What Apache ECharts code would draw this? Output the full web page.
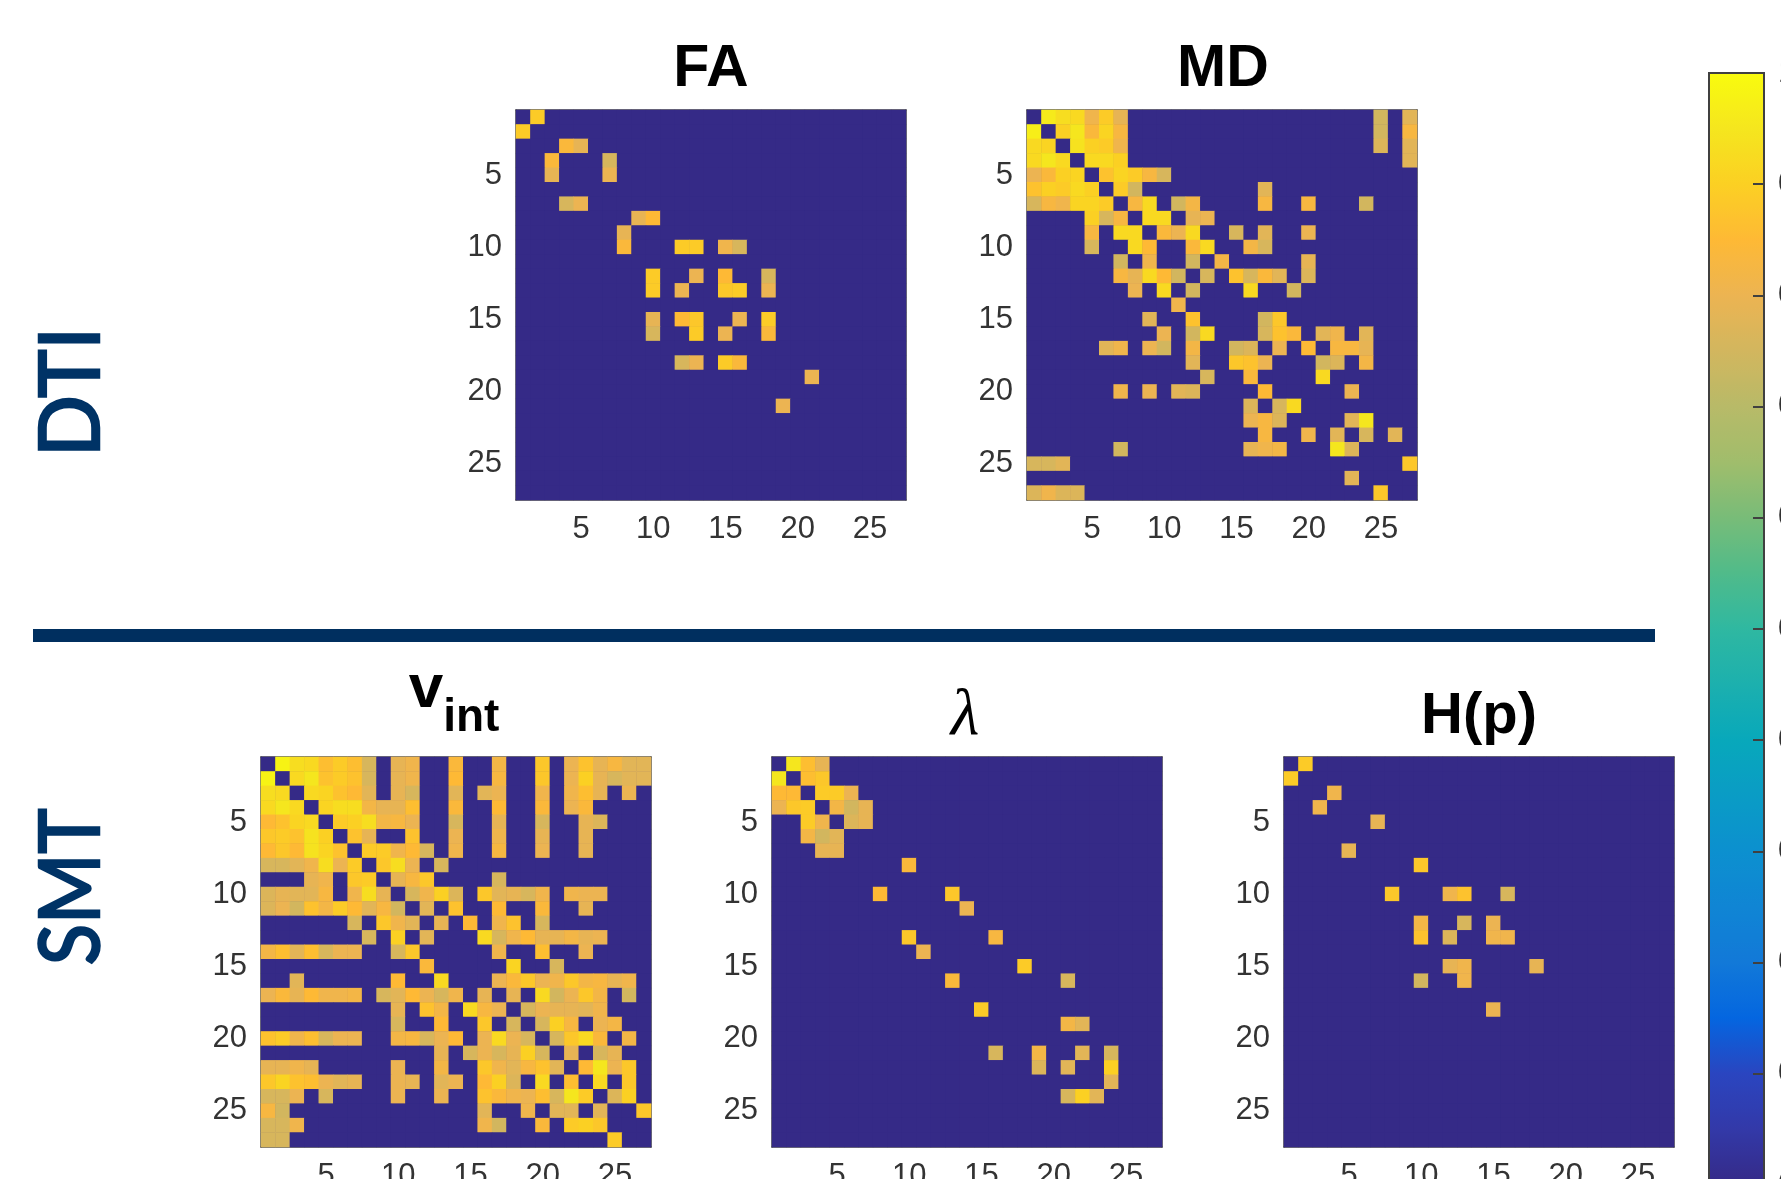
<!DOCTYPE html>
<html>
<head>
<meta charset="utf-8">
<style>html,body{margin:0;padding:0;background:#fff;overflow:hidden}#c{width:1781px;height:1179px}</style>
<script src="https://cdn.jsdelivr.net/npm/echarts@6/dist/echarts.min.js"></script>
</head>
<body>
<div id="c"></div>
<script>
// Every row: [row, col, value, col, value, ...]. Cells not listed are 0.
const indices = ['1','2','3','4','5','6','7','8','9','10','11','12','13','14','15','16','17','18','19','20','21','22','23','24','25','26','27'];
const faCells = [
[1,2,.89],[2,1,.89],[3,4,.84,5,.79],[4,3,.84,7,.76],[5,3,.79,7,.80],[7,4,.76,5,.80],
[8,9,.79,10,.85],[9,8,.79],[10,8,.84,12,.89,13,.89,15,.81,16,.76],
[12,10,.89,13,.80,15,.85,18,.76],[13,10,.89,12,.80,15,.88,16,.89,18,.80],
[15,10,.79,12,.85,13,.88,16,.80,18,.89],[16,10,.76,13,.89,15,.80,18,.84],
[18,12,.76,13,.80,15,.89,16,.84],[19,21,.80],[21,19,.80]];
const mdCells = [
[1,2,.96,3,.93,4,.92,5,.81,6,.89,7,.79,25,.75,27,.78],
[2,1,.97,3,.90,4,.95,5,.84,6,.91,7,.83,25,.75,27,.83],
[3,1,.92,2,.91,4,.94,5,.90,6,.89,7,.81,25,.77,27,.78],
[4,1,.92,2,.95,3,.92,5,.92,6,.92,7,.90,27,.78],
[5,1,.80,2,.84,3,.90,4,.91,6,.87,7,.91,8,.89,9,.83,10,.76],
[6,1,.87,2,.90,3,.89,4,.92,5,.90,7,.89,8,.75,17,.78],
[7,1,.76,2,.83,3,.81,4,.91,5,.91,6,.89,8,.83,9,.92,11,.75,12,.82,17,.83,20,.83,24,.75],
[8,5,.90,6,.76,7,.83,9,.92,10,.92,12,.79,13,.80],
[9,5,.83,7,.92,8,.92,10,.84,11,.80,12,.92,15,.76,17,.78,20,.80],
[10,5,.76,8,.92,9,.85,12,.84,13,.92,16,.82,17,.76],
[11,7,.75,9,.81,12,.75,14,.82,20,.79],
[12,7,.83,8,.79,9,.92,10,.85,11,.75,13,.76,15,.87,16,.76,17,.84,18,.78,20,.77],
[13,8,.80,10,.92,12,.75,16,.92,19,.75],
[14,11,.81],
[15,9,.78,12,.87,17,.75,18,.88],
[16,10,.80,12,.75,13,.92,17,.76,18,.87,19,.84,21,.78,22,.81,24,.78],
[17,6,.78,7,.81,9,.80,10,.75,12,.82,15,.75,16,.77,18,.80,20,.85,22,.83,23,.83,24,.79],
[18,12,.78,15,.88,16,.87,17,.80,21,.75,22,.77,24,.82],
[19,13,.76,16,.84,21,.92],
[20,7,.81,9,.80,11,.78,12,.77,17,.85,23,.80],
[21,16,.77,18,.76,19,.92],
[22,16,.80,17,.83,18,.77,23,.78,24,.95],
[23,17,.83,20,.81,22,.78,24,.76,26,.78],
[24,7,.75,16,.79,17,.81,18,.82,22,.95,23,.77],
[25,1,.76,2,.76,3,.78,27,.88],
[26,23,.78],
[27,1,.77,2,.81,3,.77,4,.77,25,.88]];
const vintCells = [
[1,2,.98,3,.93,4,.92,5,.86,6,.89,7,.86,8,.76,10,.79,11,.81,14,.84,17,.82,20,.88,22,.80,23,.87,24,.79,25,.83,26,.78,27,.78],
[2,1,.98,3,.92,4,.95,5,.87,6,.89,7,.87,8,.76,10,.79,11,.81,14,.85,17,.83,20,.88,22,.80,23,.90,24,.79,25,.76,26,.78,27,.78],
[3,1,.93,2,.92,4,.92,5,.91,6,.87,7,.85,8,.78,10,.79,11,.76,14,.78,16,.78,17,.80,20,.81,22,.81,23,.86,24,.79,26,.80],
[4,1,.92,2,.95,3,.92,5,.91,6,.93,7,.93,8,.82,9,.79,10,.79,11,.86,14,.84,17,.85,20,.84,22,.80,23,.84],
[5,1,.85,2,.87,3,.91,4,.92,6,.89,7,.90,8,.93,9,.82,10,.83,11,.80,14,.76,17,.79,20,.76,23,.79,24,.77],
[6,1,.88,2,.89,3,.87,4,.94,5,.90,7,.87,8,.79,11,.87,14,.80,17,.81,20,.79,23,.79],
[7,1,.85,2,.88,3,.85,4,.94,5,.91,6,.87,8,.89,9,.89,10,.81,11,.85,12,.76,14,.81,17,.83,20,.80,23,.79],
[8,1,.76,2,.76,3,.78,4,.81,5,.93,6,.80,7,.89,9,.88,10,.93,11,.80,13,.76],
[9,4,.79,5,.81,7,.88,8,.89,10,.79,11,.83,12,.88,17,.76],
[10,1,.77,2,.79,3,.78,4,.78,5,.83,7,.81,8,.93,9,.79,11,.76,12,.81,13,.90,14,.77,16,.88,17,.78,18,.79,19,.76,20,.81,22,.81,23,.80,24,.80],
[11,1,.77,2,.80,3,.75,4,.87,5,.82,6,.89,7,.85,8,.78,9,.83,10,.75,12,.78,14,.87,17,.85,20,.84,23,.79],
[12,7,.76,9,.88,10,.81,11,.78,13,.79,15,.85,17,.81,18,.87,20,.76],
[13,8,.76,10,.90,12,.78,16,.92,17,.76,18,.81,19,.85,20,.79,21,.79,22,.82,23,.79,24,.80],
[14,1,.82,2,.86,3,.78,4,.86,5,.76,6,.80,7,.80,10,.76,11,.88,17,.81,20,.86,23,.80],
[15,12,.84,18,.91,21,.76],
[16,3,.78,10,.85,13,.92,17,.80,18,.84,19,.88,20,.80,21,.81,22,.88,23,.82,24,.83,25,.79,26,.81],
[17,1,.80,2,.84,3,.79,4,.85,5,.81,6,.81,7,.82,9,.76,10,.78,11,.85,12,.80,13,.76,14,.81,16,.79,18,.79,20,.92,21,.75,22,.80,23,.88,24,.82,26,.75],
[18,10,.79,12,.87,13,.82,15,.92,16,.83,17,.80,19,.76,20,.80,21,.79,22,.79,23,.78,24,.81],
[19,10,.76,13,.85,16,.88,18,.76,20,.76,21,.90,22,.83,24,.80,25,.82],
[20,1,.87,2,.89,3,.81,4,.86,5,.76,6,.80,7,.80,10,.82,11,.83,12,.76,13,.80,14,.85,16,.80,17,.92,18,.80,19,.76,21,.76,22,.88,23,.92,24,.84,26,.82],
[21,13,.79,15,.76,16,.80,17,.76,18,.79,19,.90,20,.76,22,.79,24,.76,25,.79],
[22,1,.79,2,.79,3,.81,4,.79,10,.80,13,.82,16,.88,17,.81,18,.78,19,.83,20,.87,21,.78,23,.85,24,.95,25,.80,26,.88],
[23,1,.88,2,.91,3,.87,4,.86,5,.80,6,.78,7,.79,10,.80,11,.79,13,.78,14,.80,16,.85,17,.90,18,.77,20,.92,22,.86,24,.92,26,.88],
[24,1,.76,2,.76,3,.80,5,.76,10,.80,13,.80,16,.87,17,.84,18,.81,19,.80,20,.86,21,.76,22,.95,23,.89,25,.77,26,.90],
[25,1,.83,2,.75,16,.78,19,.81,21,.78,22,.78,24,.78,27,.88],
[26,1,.76,2,.76,3,.81,16,.81,17,.75,20,.84,22,.89,23,.90,24,.88],
[27,1,.76,2,.76,25,.89]];
const lambdaCells = [
[1,2,.95,3,.86,4,.79],[2,1,.95,3,.86,4,.88],[3,1,.85,2,.85,4,.89,5,.89,6,.80],
[4,1,.80,2,.88,3,.89,5,.82,6,.75,7,.79],[5,3,.89,4,.81,6,.77,7,.79],[6,3,.82,4,.75,5,.78],
[7,4,.79,5,.79],[8,10,.84],[10,8,.85,13,.88],[11,14,.80],[13,10,.88,16,.83],[14,11,.80],
[15,18,.89],[16,13,.84,21,.76],[18,15,.89],[19,21,.82,22,.78],[21,16,.76,19,.82,22,.78,24,.76],
[22,19,.77,21,.78,24,.90],[23,24,.78],[24,21,.76,22,.90,23,.78]];
const hpCells = [
[1,2,.89],[2,1,.89],[3,4,.81],[4,3,.81],[5,7,.79],[7,5,.79],[8,10,.88],
[10,8,.88,12,.81,13,.87,16,.76],[12,10,.82,13,.76,15,.80],[13,10,.87,12,.77,15,.81,16,.81],
[15,12,.79,13,.81,18,.79],[16,10,.75,13,.81],[18,15,.80]];
const colorStops = ['#352a87','#3339a8','#2a45c0','#0466e0','#1279d8','#1085d4','#0c90cf','#0a9cc5','#08a8bb','#1cb0ae','#2fb8a1','#50bb8a','#78bc78','#a0bd6c','#b8ba68','#d2b65e','#ecb452','#feb935','#fbd023','#f5e61e','#f9fb0e'];
const panelNames = ['FA','MD','vint','lambda','Hp'];
const panelCells = [faCells, mdCells, vintCells, lambdaCells, hpCells];
const panelBoxes = [[516,110],[1027,110],[261,757],[772,757],[1284,757]];
const PANEL = 390, SANS = '"Liberation Sans", Arial, sans-serif', NAVY = '#003366', AXIS = '#4a4a4a';

function matrix(rows){
  const m = indices.map(() => indices.map(() => 0));
  rows.forEach(r => { for (let i = 1; i < r.length; i += 2) m[r[0]-1][r[i]-1] = r[i+1]; });
  const out = [];
  m.forEach((row, y) => row.forEach((v, x) => out.push([x, y, v])));
  return out;
}
const every5 = i => (i + 1) % 5 === 0;
const grid = [], xAxis = [], yAxis = [], series = [];
panelBoxes.forEach((b, i) => {
  grid.push({left:b[0], top:b[1], width:PANEL, height:PANEL, outerBoundsMode:'none', show:true, backgroundColor:colorStops[0], borderWidth:0});
  const tick = {show:true, alignWithLabel:true, inside:true, length:5, interval:every5, lineStyle:{color:'#3a3a3a', width:1.5}};
  const line = {show:true, onZero:false, lineStyle:{color:AXIS, width:1.5}};
  const lab = {show:true, interval:every5, fontSize:31, color:'#333', fontFamily:SANS, margin:14};
  xAxis.push({type:'category', gridIndex:i, position:'bottom', data:indices, axisLine:line, axisTick:tick, axisLabel:lab, splitLine:{show:false}});
  xAxis.push({type:'category', gridIndex:i, position:'top', data:indices, axisLine:line, axisTick:tick, axisLabel:{show:false}, splitLine:{show:false}});
  yAxis.push({type:'category', gridIndex:i, position:'left', inverse:true, data:indices, axisLine:line, axisTick:tick, axisLabel:lab, splitLine:{show:false}});
  yAxis.push({type:'category', gridIndex:i, position:'right', inverse:true, data:indices, axisLine:line, axisTick:tick, axisLabel:{show:false}, splitLine:{show:false}});
  series.push({name:panelNames[i], type:'heatmap', xAxisIndex:i*2, yAxisIndex:i*2, data:matrix(panelCells[i]), progressive:0, animation:false, emphasis:{disabled:true}});
});
// colour bar axis (its gradient is the visualMap below)
grid.push({left:1709, top:73, width:55, height:1112, outerBoundsMode:'none', show:true, backgroundColor:'transparent', borderColor:'#404040', borderWidth:2, z:10});
xAxis.push({type:'category', gridIndex:5, data:[''], axisLine:{show:false}, axisTick:{show:false}, axisLabel:{show:false}, z:10});
yAxis.push({type:'value', gridIndex:5, position:'right', min:0, max:1, interval:0.1, splitLine:{show:false}, z:10,
  axisLine:{show:false}, axisTick:{show:true, inside:true, length:11, lineStyle:{color:'#404040', width:2}},
  axisLabel:{show:true, fontSize:31, color:'#333', fontFamily:SANS, margin:14}});

const titles = [
  {text:'FA', left:711, top:40, textAlign:'center', padding:0, textStyle:{fontFamily:SANS, fontSize:59, fontWeight:'bold', color:'#000'}},
  {text:'MD', left:1223, top:40, textAlign:'center', padding:0, textStyle:{fontFamily:SANS, fontSize:59, fontWeight:'bold', color:'#000'}},
  {text:'{v|v}{s|int}', left:454, top:659, textAlign:'center', padding:0, textStyle:{rich:{
     v:{fontFamily:SANS, fontSize:62, fontWeight:'bold', color:'#000', padding:[0,0,57,0]},
     s:{fontFamily:SANS, fontSize:46, fontWeight:'bold', color:'#000'}}}},
  {text:'\u03bb', left:965, top:684, textAlign:'center', padding:0, textStyle:{fontFamily:'"Liberation Serif", serif', fontStyle:'italic', fontSize:66, fontWeight:'normal', color:'#000'}},
  {text:'H(p)', left:1479, top:688, textAlign:'center', padding:0, textStyle:{fontFamily:SANS, fontSize:58, fontWeight:'bold', color:'#000'}}
];
const rowLabel = (t, cx, cy, sx) => ({type:'text', x:cx, y:cy, rotation:Math.PI/2, scaleX:sx, scaleY:1,
  style:{text:t, fill:NAVY, stroke:NAVY, lineWidth:2.5, font:'84px Lato, sans-serif', textAlign:'center', textVerticalAlign:'middle'}});

const chart = echarts.init(document.getElementById('c'), null, {renderer:'canvas'});
chart.setOption({
  animation:false, backgroundColor:'#fff',
  title:titles, grid, xAxis, yAxis, series,
  visualMap:{type:'continuous', min:0, max:1, show:true, seriesIndex:[0,1,2,3,4], calculable:false, hoverLink:false, silent:true,
    left:1709, top:73, padding:0, itemWidth:55, itemHeight:1112, orient:'vertical', text:null, showLabel:false, z:4,
    textStyle:{color:'transparent', fontSize:1}, inRange:{color:colorStops}, formatter:()=>''},
  graphic:[
    {type:'rect', shape:{x:33, y:629, width:1622, height:13}, style:{fill:'#002f5f'}},
    rowLabel('DTI', 72, 392, 0.97),
    rowLabel('SMT', 72, 887, 0.905)
  ]
});
</script>
</body>
</html>
